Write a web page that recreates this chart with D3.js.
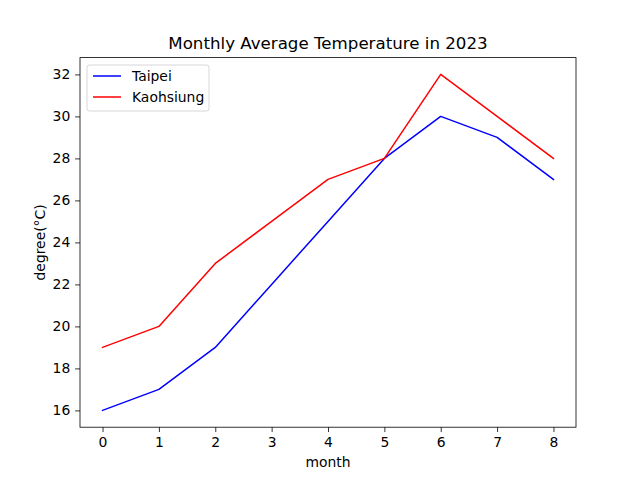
<!DOCTYPE html>
<html><head><meta charset="utf-8">
<script src="https://cdn.jsdelivr.net/npm/d3@7"></script>
<style>body{margin:0;background:#fff}svg{display:block;font-family:"DejaVu Sans",sans-serif}</style>
</head><body>
<svg id="c" width="640" height="480"></svg>
<script>
const months = [0,1,2,3,4,5,6,7,8];
const taipei = [16,17,19,22,25,28,30,29,27];
const kaohsiung = [19,20,23,25,27,28,32,30,28];
const xTicks = [0,1,2,3,4,5,6,7,8];
const yTicks = [16,18,20,22,24,26,28,30,32];
const seriesNames = ["Taipei","Kaohsiung"];
const seriesColors = ["#0000ff","#ff0000"];

const svg = d3.select("#c");
const L=80, R=576, T=57.6, B=427.2;
const x = d3.scaleLinear().domain([-0.4,8.4]).range([L,R]);
const y = d3.scaleLinear().domain([15.2,32.8]).range([B,T]);

const data = [taipei,kaohsiung];
const line = d3.line().x((d,i)=>x(months[i])).y(d=>y(d));
const g = svg.append("g");
data.forEach((s,k)=>{
  g.append("path").attr("d",line(s)).attr("fill","none")
   .attr("stroke",seriesColors[k]).attr("stroke-width",1.5)
   .attr("stroke-linejoin","round").attr("stroke-linecap","square");
});

const xa = svg.append("g").attr("transform",`translate(0,${B})`)
  .call(d3.axisBottom(x).tickValues(xTicks).tickSize(4.86).tickPadding(4.86).tickFormat(d3.format("d")));
const ya = svg.append("g").attr("transform",`translate(${L},0)`)
  .call(d3.axisLeft(y).tickValues(yTicks).tickSize(4.86).tickPadding(4.86).tickFormat(d3.format("d")));
[xa,ya].forEach(a=>{
  a.select(".domain").remove();
  a.selectAll(".tick line").attr("stroke","#000").attr("stroke-width",0.8);
  a.selectAll(".tick text").attr("font-size","13.9px").attr("fill","#000").attr("font-family","DejaVu Sans");
});
svg.append("rect").attr("x",L).attr("y",T).attr("width",R-L).attr("height",B-T)
  .attr("fill","none").attr("stroke","#000").attr("stroke-width",0.8);

svg.append("text").attr("x",(L+R)/2).attr("y",T-8.5).attr("text-anchor","middle")
  .attr("font-size","16.67px").text("Monthly Average Temperature in 2023");
svg.append("text").attr("x",(L+R)/2).attr("y",467).attr("text-anchor","middle")
  .attr("font-size","13.9px").text("month");
svg.append("text").attr("transform",`translate(45,${(T+B)/2}) rotate(-90)`).attr("text-anchor","middle")
  .attr("font-size","13.9px").text("degree(°C)");

const lg = svg.append("g");
lg.append("rect").attr("x",87).attr("y",65).attr("width",122).attr("height",46).attr("rx",2.5)
  .attr("fill","#fff").attr("fill-opacity",0.8).attr("stroke","#cccccc").attr("stroke-width",0.8);
seriesNames.forEach((n,i)=>{
  const yy = 76 + i*21;
  lg.append("line").attr("x1",93).attr("x2",121).attr("y1",yy).attr("y2",yy)
    .attr("stroke",seriesColors[i]).attr("stroke-width",1.5);
  lg.append("text").attr("x",132).attr("y",yy+5).attr("font-size","13.9px").text(n);
});
</script>
</body></html>
